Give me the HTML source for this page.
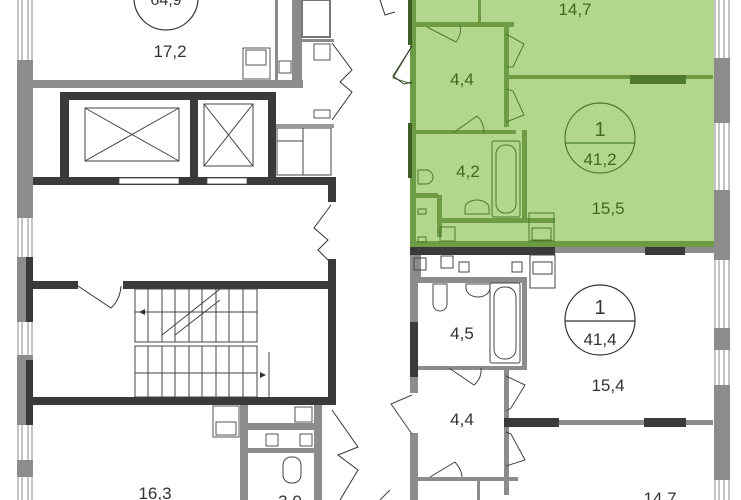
<!DOCTYPE html>
<html><head><meta charset="utf-8"><style>
html,body{margin:0;padding:0;background:#fff;}
svg{display:block;}
text{font-family:"Liberation Sans",sans-serif;}
</style></head><body>
<svg width="741" height="500" viewBox="0 0 741 500" xmlns="http://www.w3.org/2000/svg">
<!-- green apartment -->
<rect x="412" y="0" width="302" height="247" fill="#b2d68c"/>
<!-- left outer wall with windows -->
<rect x="17" y="0" width="16" height="500" fill="#fff"/>
<g stroke="#888" stroke-width="1">
<line x1="18" y1="0" x2="18" y2="500"/><line x1="22" y1="0" x2="22" y2="500"/><line x1="28" y1="0" x2="28" y2="500"/><line x1="32" y1="0" x2="32" y2="500"/>
</g>
<rect x="17" y="60" width="16" height="158" fill="#8c8c8c"/>
<rect x="17" y="257" width="16" height="65" fill="#8c8c8c"/><rect x="26" y="257" width="7" height="65" fill="#3a3a3a"/>
<rect x="17" y="355" width="16" height="70" fill="#8c8c8c"/><rect x="26" y="360" width="7" height="65" fill="#3a3a3a"/>
<rect x="17" y="460" width="16" height="17" fill="#8c8c8c"/>
<!-- top-left apartment -->
<rect x="33" y="80" width="270" height="8" fill="#8c8c8c"/>
<rect x="275" y="0" width="3" height="80" fill="#8c8c8c"/>
<rect x="292" y="0" width="10" height="88" fill="#8c8c8c"/>
<rect x="243" y="48" width="27" height="31" fill="none" stroke="#555"/>
<rect x="246" y="50" width="20" height="15" fill="none" stroke="#555"/>
<rect x="279" y="61" width="12" height="12" fill="none" stroke="#555"/>
<rect x="302" y="0" width="28" height="37" fill="none" stroke="#777" stroke-width="2"/>
<rect x="302" y="39" width="32" height="3" fill="#8c8c8c"/>
<rect x="314" y="44" width="16" height="16" fill="none" stroke="#555"/>
<rect x="314" y="110" width="16" height="8" fill="none" stroke="#555"/>
<path d="M332 43 L352 70 L340 82 L352 92 L332 120" fill="none" stroke="#333"/>
<circle cx="166" cy="-2" r="32" fill="none" stroke="#333" stroke-width="1.2"/>
<text x="166" y="5" font-size="16" text-anchor="middle" fill="#333">64,9</text>
<text x="170" y="57" font-size="17" text-anchor="middle" fill="#333">17,2</text>
<!-- elevator block -->
<rect x="60" y="92" width="216" height="8" fill="#3a3a3a"/>
<rect x="60" y="92" width="9" height="93" fill="#3a3a3a"/>
<rect x="190" y="92" width="8" height="93" fill="#3a3a3a"/>
<rect x="268" y="92" width="8" height="93" fill="#3a3a3a"/>
<rect x="33" y="177" width="302" height="8" fill="#3a3a3a"/>
<rect x="119" y="178" width="60" height="6" fill="#fff" stroke="#444" stroke-width="0.7"/>
<rect x="207" y="178" width="40" height="6" fill="#fff" stroke="#444" stroke-width="0.7"/>
<rect x="328" y="177" width="8" height="25" fill="#3a3a3a"/>
<g fill="none" stroke="#444" stroke-width="1">
<rect x="85" y="108" width="94" height="53"/><line x1="85" y1="108" x2="179" y2="161"/><line x1="179" y1="108" x2="85" y2="161"/>
<rect x="204" y="104" width="49" height="62"/><line x1="204" y1="104" x2="253" y2="166"/><line x1="253" y1="104" x2="204" y2="166"/>
<rect x="277" y="128" width="54" height="47"/><line x1="303" y1="128" x2="303" y2="175"/><line x1="277" y1="141" x2="303" y2="141"/>
</g>
<rect x="276" y="124" width="58" height="4" fill="#999"/>
<path d="M331 205 L314 228 L328 240 L318 250 L330 262" fill="none" stroke="#333"/>
<!-- stair block -->
<rect x="33" y="281" width="45" height="8" fill="#3a3a3a"/>
<rect x="123" y="281" width="207" height="8" fill="#3a3a3a"/>
<rect x="328" y="259" width="8" height="146" fill="#3a3a3a"/>
<rect x="33" y="397" width="303" height="8" fill="#3a3a3a"/>
<path d="M78 286 L111 308 Q120 300 121 286" fill="none" stroke="#333"/>
<g stroke="#444" stroke-width="1" fill="none">
<rect x="135" y="289" width="122" height="53"/><rect x="135" y="346" width="122" height="51"/>
<line x1="135" y1="312" x2="257" y2="312"/><line x1="135" y1="373" x2="257" y2="373"/>
<line x1="148" y1="289" x2="148" y2="342"/><line x1="162" y1="289" x2="162" y2="342"/><line x1="175" y1="289" x2="175" y2="342"/><line x1="189" y1="289" x2="189" y2="342"/><line x1="202" y1="289" x2="202" y2="342"/><line x1="216" y1="289" x2="216" y2="342"/><line x1="229" y1="289" x2="229" y2="342"/><line x1="243" y1="289" x2="243" y2="342"/>
<line x1="148" y1="346" x2="148" y2="397"/><line x1="162" y1="346" x2="162" y2="397"/><line x1="175" y1="346" x2="175" y2="397"/><line x1="189" y1="346" x2="189" y2="397"/><line x1="202" y1="346" x2="202" y2="397"/><line x1="216" y1="346" x2="216" y2="397"/><line x1="229" y1="346" x2="229" y2="397"/><line x1="243" y1="346" x2="243" y2="397"/>
<line x1="162" y1="335" x2="220" y2="289"/><line x1="175" y1="335" x2="220" y2="300"/>
<line x1="269" y1="352" x2="269" y2="397"/>
</g>
<path d="M139 312 l6 -3 v6z M266 375 l-6 -3 v6z" fill="#333"/>
<!-- bottom left -->
<rect x="213" y="406" width="26" height="31" fill="none" stroke="#555"/>
<rect x="216" y="422" width="20" height="13" fill="none" stroke="#555"/>
<rect x="240" y="405" width="8" height="95" fill="#8c8c8c"/>
<rect x="314" y="405" width="8" height="95" fill="#8c8c8c"/>
<rect x="248" y="423" width="66" height="7" fill="#8c8c8c"/>
<rect x="248" y="448" width="66" height="5" fill="#8c8c8c"/>
<rect x="295" y="407" width="17" height="15" fill="none" stroke="#555"/>
<rect x="266" y="434" width="12" height="12" fill="none" stroke="#555"/>
<rect x="300" y="434" width="12" height="12" fill="none" stroke="#555"/>
<rect x="283" y="457" width="18" height="26" rx="8" fill="none" stroke="#444"/>
<text x="155" y="499" font-size="17" text-anchor="middle" fill="#333">16,3</text>
<text x="290" y="507" font-size="17" text-anchor="middle" fill="#333">3,0</text>
<path d="M332 410 L358 447 L338 455 L358 470 L340 500" fill="none" stroke="#333"/>
<!-- green apt walls -->
<g fill="#6e9c45">
<rect x="410" y="0" width="6" height="247"/>
<rect x="478" y="0" width="3" height="22"/>
<rect x="416" y="22" width="98" height="5"/>
<rect x="504" y="27" width="5" height="100"/>
<rect x="509" y="75" width="204" height="4"/>
<rect x="416" y="130" width="100" height="4"/>
<rect x="522" y="130" width="5" height="88"/>
<rect x="416" y="193" width="22" height="5"/>
<rect x="437" y="195" width="5" height="42"/>
<rect x="440" y="218" width="115" height="5"/>
<rect x="410" y="241" width="304" height="6"/>
</g>
<rect x="408" y="0" width="4" height="45" fill="#3d6024"/>
<rect x="408" y="123" width="4" height="55" fill="#3d6024"/>
<rect x="630" y="75" width="56" height="9" fill="#4e7a2c"/>
<g fill="none" stroke="#4a7a2a" stroke-width="1">
<rect x="492" y="141" width="28" height="76" rx="2"/><rect x="496" y="145" width="20" height="68" rx="9"/>
<path d="M465 208 a12 8 0 0 1 24 0 v6 h-24z"/>
<path d="M418 170 h8 a7 7 0 0 1 0 14 h-8z"/>
<rect x="529" y="213" width="25" height="28"/>
<rect x="532" y="228" width="19" height="12"/>
<rect x="440" y="227" width="15" height="14"/>
<rect x="418" y="209" width="8" height="5"/><rect x="418" y="237" width="8" height="5"/>
<path d="M427 27 L456 42 Q462 34 460 24"/>
<path d="M506 34 L524 44 L513 67 L506 67"/>
<path d="M506 89 L513 91 L524 115 L506 122"/>
<path d="M453 133 L477 116 Q484 122 484 133"/>
<path d="M412 46 L393 78 L412 84"/>
</g>
<path d="M412 46 L393 76 L404 84 L412 82" fill="none" stroke="#333"/>
<path d="M380 0 L385 15 L395 12" fill="none" stroke="#333"/>
<circle cx="600" cy="138" r="35" fill="none" stroke="#4a7a2a" stroke-width="1.2"/>
<line x1="565" y1="143" x2="635" y2="143" stroke="#4a7a2a" stroke-width="1.2"/>
<text x="600" y="136" font-size="20" text-anchor="middle" fill="#3d6a1f">1</text>
<text x="600" y="165" font-size="17" text-anchor="middle" fill="#3d6a1f">41,2</text>
<g font-size="17" text-anchor="middle" fill="#3d6a1f">
<text x="575" y="15">14,7</text><text x="462" y="85">4,4</text><text x="468" y="177">4,2</text><text x="608" y="214">15,5</text>
</g>
<!-- right outer wall -->
<rect x="714" y="0" width="16" height="500" fill="#fff"/>
<g stroke="#888" stroke-width="1"><line x1="715" y1="0" x2="715" y2="500"/><line x1="719" y1="0" x2="719" y2="500"/><line x1="724" y1="0" x2="724" y2="500"/><line x1="729" y1="0" x2="729" y2="500"/></g>
<rect x="714" y="58" width="16" height="65" fill="#8c8c8c"/>
<rect x="714" y="190" width="16" height="70" fill="#8c8c8c"/>
<rect x="714" y="328" width="16" height="22" fill="#8c8c8c"/>
<rect x="714" y="385" width="16" height="95" fill="#8c8c8c"/>
<!-- lower right apartment -->
<rect x="410" y="247" width="145" height="8" fill="#3a3a3a"/>
<rect x="555" y="247" width="90" height="6" fill="#8c8c8c"/>
<rect x="645" y="247" width="40" height="8" fill="#3a3a3a"/>
<rect x="685" y="247" width="29" height="6" fill="#8c8c8c"/>
<rect x="410" y="255" width="8" height="245" fill="#8c8c8c"/>
<rect x="410" y="322" width="8" height="55" fill="#3a3a3a"/>
<rect x="408" y="393" width="12" height="40" fill="#fff"/>
<rect x="418" y="277" width="109" height="6" fill="#8c8c8c"/>
<rect x="418" y="255" width="3" height="22" fill="#8c8c8c"/>
<rect x="522" y="283" width="5" height="85" fill="#8c8c8c"/>
<rect x="418" y="366" width="109" height="4" fill="#8c8c8c"/>
<rect x="504" y="370" width="5" height="125" fill="#8c8c8c"/>
<rect x="504" y="420" width="209" height="5" fill="#8c8c8c"/>
<rect x="504" y="418" width="55" height="9" fill="#3a3a3a"/>
<rect x="644" y="418" width="42" height="9" fill="#3a3a3a"/>
<rect x="418" y="477" width="100" height="4" fill="#8c8c8c"/>
<rect x="477" y="481" width="3" height="19" fill="#8c8c8c"/>
<g fill="none" stroke="#444" stroke-width="1">
<rect x="414" y="258" width="12" height="12"/><rect x="441" y="256" width="12" height="12"/><rect x="459" y="262" width="10" height="10"/><rect x="512" y="262" width="10" height="10"/>
<rect x="530" y="255" width="25" height="33"/><rect x="533" y="262" width="19" height="12"/>
<rect x="490" y="283" width="30" height="80" rx="2"/><rect x="494" y="287" width="22" height="72" rx="10"/>
<path d="M466 288 a12 9 0 0 0 24 0 v-4 h-24z"/>
<path d="M433 284 h14 v20 a7 7 0 0 1 -14 0z"/>
<path d="M449 368 L474 385 Q482 378 481 368"/>
<path d="M506 376 L525 385 L511 408 L506 411"/>
<path d="M506 432 L511 434 L525 460 L506 466"/>
<path d="M430 477 L455 462 Q462 470 462 477"/>
<path d="M412 395 L391 404 L412 434"/>
<path d="M390 490 L380 500"/>
</g>
<circle cx="600" cy="320" r="35" fill="none" stroke="#333" stroke-width="1.2"/>
<line x1="565" y1="321" x2="635" y2="321" stroke="#333" stroke-width="1.2"/>
<text x="600" y="314" font-size="20" text-anchor="middle" fill="#333">1</text>
<text x="600" y="345" font-size="17" text-anchor="middle" fill="#333">41,4</text>
<g font-size="17" text-anchor="middle" fill="#333">
<text x="462" y="339">4,5</text><text x="608" y="391">15,4</text><text x="462" y="425">4,4</text><text x="660" y="504">14,7</text>
</g>
</svg>
</body></html>
